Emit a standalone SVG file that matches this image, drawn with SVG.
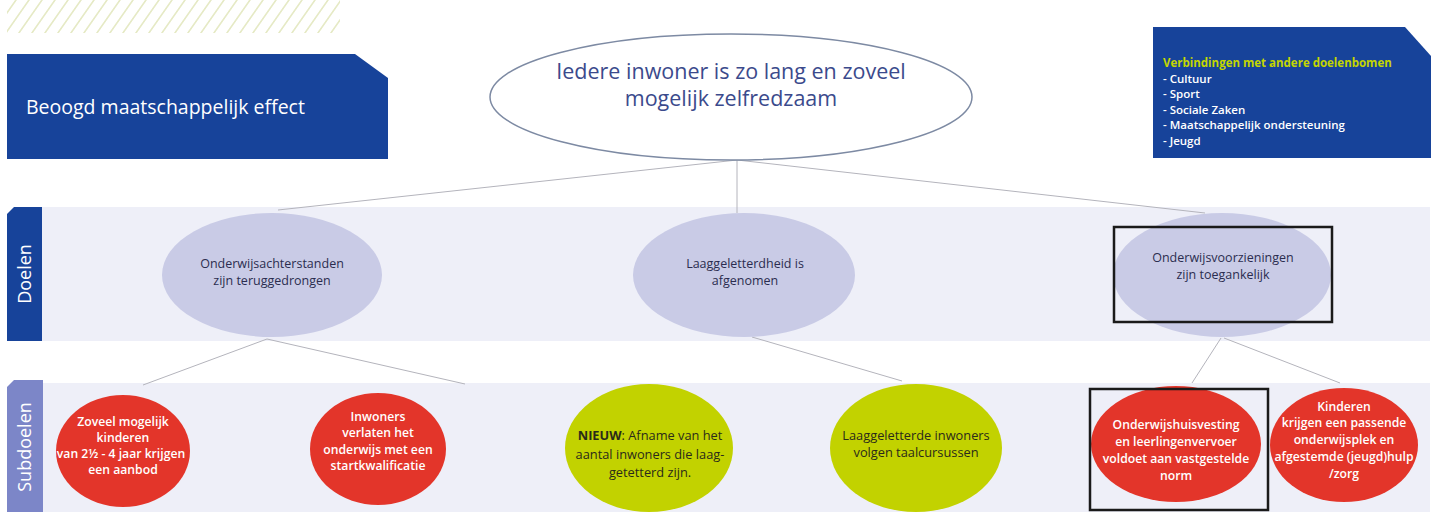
<svg xmlns="http://www.w3.org/2000/svg" width="1435" height="512" viewBox="0 0 1435 512">
<defs>
<style>
text{font-family:"Open Sans","Noto Sans","Liberation Sans",sans-serif}
.conn{stroke:#b4b4bc;stroke-width:1;fill:none}
.band{fill:#eeeff8}
.goal{fill:#c9cbe6}
.red{fill:#e3352a}
.green{fill:#c2d200}
.gt{font-size:12.5px;fill:#2b2d4f;text-anchor:middle}
.rt{font-size:12.2px;fill:#ffffff;font-weight:600;text-anchor:middle}
.grt{font-size:12.8px;fill:#2a2a1a;text-anchor:middle}
.frame{fill:none;stroke:#1a1a1a;stroke-width:2.5}
.box{fill:#17439a}
</style>
<pattern id="hatch" width="13" height="40" patternUnits="userSpaceOnUse" patternTransform="skewX(-35)">
<line x1="3" y1="0" x2="3" y2="40" stroke="#e6eac6" stroke-width="2"/>
</pattern>
</defs>
<rect width="1435" height="512" fill="#ffffff"/>
<rect x="7" y="0" width="333" height="33" fill="url(#hatch)"/>

<g id="bands">
<rect class="band" x="42" y="207" width="1388" height="134"/>
<rect class="band" x="42" y="383" width="1388" height="129"/>
</g>

<g id="tab-doelen">
<path d="M7,214 L14,207 L42,207 L42,341 L7,341 Z" fill="#17439a"/>
<text transform="translate(31,274) rotate(-90)" font-size="18" fill="#ffffff" text-anchor="middle">Doelen</text>
</g>
<g id="tab-subdoelen">
<path d="M7,387 L14,380 L43,380 L43,512 L7,512 Z" fill="#7c86c8"/>
<text transform="translate(31,447) rotate(-90)" font-size="18" fill="#ffffff" text-anchor="middle">Subdoelen</text>
</g>

<g id="connectors">
<line class="conn" x1="737" y1="160" x2="278" y2="210"/>
<line class="conn" x1="737" y1="160" x2="737" y2="213"/>
<line class="conn" x1="737" y1="160" x2="1205" y2="213"/>
<line class="conn" x1="267" y1="339" x2="143" y2="385"/>
<line class="conn" x1="267" y1="339" x2="465" y2="384"/>
<line class="conn" x1="752" y1="337" x2="902" y2="381"/>
<line class="conn" x1="1221" y1="338" x2="1192" y2="383"/>
<line class="conn" x1="1224" y1="338" x2="1340" y2="383"/>
</g>

<g id="effect-box">
<path class="box" d="M7,54 L355,54 L388,78 L388,159 L7,159 Z"/>
<text x="26" y="114" font-size="19.5" fill="#ffffff">Beoogd maatschappelijk effect</text>
</g>

<g id="top-goal">
<ellipse cx="731" cy="97" rx="241" ry="63" fill="#ffffff" stroke="#7d8aa3" stroke-width="1.5"/>
<text x="731" y="79" font-size="21.5" fill="#3b4a8c" text-anchor="middle">Iedere inwoner is zo lang en zoveel</text>
<text x="731" y="106" font-size="21.5" fill="#3b4a8c" text-anchor="middle">mogelijk zelfredzaam</text>
</g>

<g id="links-box">
<path class="box" d="M1153,27 L1405,27 L1431,56 L1431,158 L1153,158 Z"/>
<text x="1163" y="67" font-size="11.5" font-weight="700" fill="#c4d600">Verbindingen met andere doelenbomen</text>
<text x="1163" y="83" font-size="11.5" font-weight="600" fill="#ffffff">- Cultuur</text>
<text x="1163" y="98" font-size="11.5" font-weight="600" fill="#ffffff">- Sport</text>
<text x="1163" y="114" font-size="11.5" font-weight="600" fill="#ffffff">- Sociale Zaken</text>
<text x="1163" y="129" font-size="11.5" font-weight="600" fill="#ffffff">- Maatschappelijk ondersteuning</text>
<text x="1163" y="145" font-size="11.5" font-weight="600" fill="#ffffff">- Jeugd</text>
</g>

<g id="goal1">
<ellipse class="goal" cx="272" cy="275" rx="110" ry="62"/>
<text class="gt" x="272" y="268">Onderwijsachterstanden</text>
<text class="gt" x="272" y="285">zijn teruggedrongen</text>
</g>
<g id="goal2">
<ellipse class="goal" cx="744" cy="275" rx="111" ry="62"/>
<text class="gt" x="745" y="268">Laaggeletterdheid is</text>
<text class="gt" x="745" y="285">afgenomen</text>
</g>
<g id="goal3">
<ellipse class="goal" cx="1222" cy="275" rx="109" ry="62"/>
<rect class="frame" x="1114" y="227" width="218" height="95"/>
<text class="gt" x="1223" y="262">Onderwijsvoorzieningen</text>
<text class="gt" x="1223" y="279">zijn toegankelijk</text>
</g>

<g id="sub1">
<ellipse class="red" cx="123" cy="451" rx="67" ry="56"/>
<text class="rt" x="123" y="426">Zoveel mogelijk</text>
<text class="rt" x="123" y="442">kinderen</text>
<text class="rt" x="121" y="458">van 2½ - 4 jaar krijgen</text>
<text class="rt" x="123" y="474">een aanbod</text>
</g>
<g id="sub2">
<ellipse class="red" cx="378" cy="449" rx="68" ry="56"/>
<text class="rt" x="378" y="421">Inwoners</text>
<text class="rt" x="378" y="437">verlaten het</text>
<text class="rt" x="378" y="454">onderwijs met een</text>
<text class="rt" x="378" y="470">startkwalificatie</text>
</g>
<g id="sub3">
<ellipse class="green" cx="649" cy="448" rx="84" ry="64"/>
<text class="grt" x="650" y="440"><tspan font-weight="700">NIEUW</tspan>: Afname van het</text>
<text class="grt" x="650" y="459">aantal inwoners die laag-</text>
<text class="grt" x="650" y="477">getetterd zijn.</text>
</g>
<g id="sub4">
<ellipse class="green" cx="916" cy="448" rx="86" ry="64"/>
<text class="grt" x="916" y="440">Laaggeletterde inwoners</text>
<text class="grt" x="916" y="457">volgen taalcursussen</text>
</g>
<g id="sub5">
<ellipse class="red" cx="1176" cy="444" rx="85" ry="58"/>
<rect class="frame" x="1090" y="389" width="178" height="121"/>
<text class="rt" x="1176" y="429">Onderwijshuisvesting</text>
<text class="rt" x="1176" y="446">en leerlingenvervoer</text>
<text class="rt" x="1176" y="463">voldoet aan vastgestelde</text>
<text class="rt" x="1176" y="480">norm</text>
</g>
<g id="sub6">
<ellipse class="red" cx="1344" cy="445" rx="74" ry="57"/>
<text class="rt" x="1344" y="411">Kinderen</text>
<text class="rt" x="1344" y="427">krijgen een passende</text>
<text class="rt" x="1344" y="444">onderwijsplek en</text>
<text class="rt" x="1344" y="461">afgestemde (jeugd)hulp</text>
<text class="rt" x="1344" y="478">/zorg</text>
</g>
</svg>
